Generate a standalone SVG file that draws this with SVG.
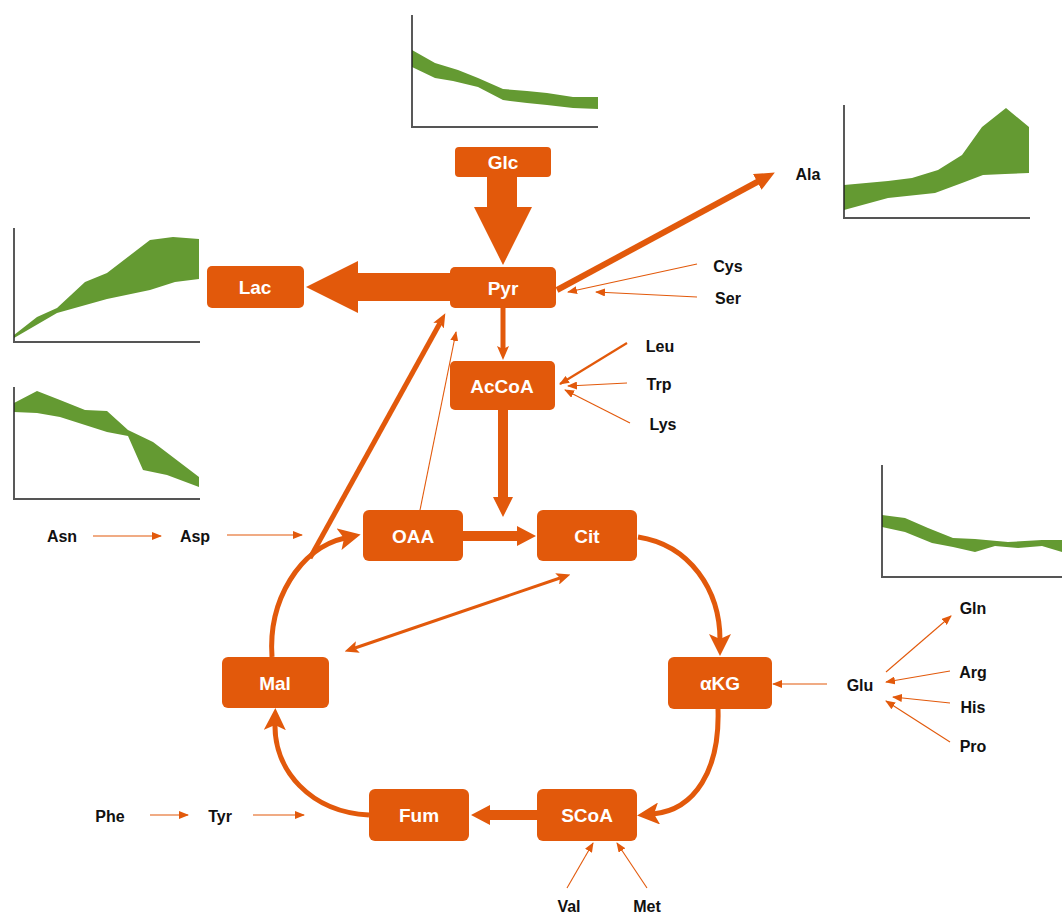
<svg xmlns="http://www.w3.org/2000/svg" width="1062" height="913" viewBox="0 0 1062 913">
<style>
.node rect{fill:#E2590B}
.node text{fill:#fff;font-family:"Liberation Sans",Arial,sans-serif;font-weight:bold;font-size:19px;text-anchor:middle;dominant-baseline:central}
.lbl{fill:#111;font-family:"Liberation Sans",Arial,sans-serif;font-weight:bold;font-size:16px;text-anchor:middle;dominant-baseline:central}
.band{fill:#649A32}
.ax{stroke:#222;stroke-width:1.5;fill:none}
.axh{stroke:#555;stroke-width:2;fill:none}
.c path,.c line{fill:none;stroke:#E2590B}
.c polygon{fill:#E2590B}
.thin{stroke-width:1.1}
.th{marker-end:url(#hThin)}
</style>
<defs>
<marker id="hThin" viewBox="0 0 10 8" refX="9" refY="4" markerWidth="10" markerHeight="8" markerUnits="userSpaceOnUse" orient="auto"><path d="M0,0 L10,4 L0,8 z" fill="#E2590B"/></marker>
<marker id="hMed" viewBox="0 0 14 12" refX="3" refY="6" markerWidth="14" markerHeight="12" markerUnits="userSpaceOnUse" orient="auto-start-reverse"><path d="M0,0 L14,6 L0,12 L3,6 z" fill="#E2590B"/></marker>
<marker id="hThick" viewBox="0 0 20 18" refX="2" refY="9" markerWidth="20" markerHeight="18" markerUnits="userSpaceOnUse" orient="auto"><path d="M0,0 L20,9 L0,18 z" fill="#E2590B"/></marker>
<marker id="hCurve" viewBox="0 0 22 22" refX="6" refY="11" markerWidth="22" markerHeight="22" markerUnits="userSpaceOnUse" orient="auto"><path d="M0,0 L22,11 L0,22 L5,11 z" fill="#E2590B"/></marker>
</defs>

<g id="charts">
<g id="chart-glc">
<polygon class="band" points="412,50 435,63 458,70 478,78 503,89 527,91 547,93 573,97 598,97 598,109 573,108 547,105 527,103 503,100 478,87 453,81 435,78 412,67"/>
<path class="ax" d="M412,15 V127"/><path class="axh" d="M411,127 H598"/>
</g>
<g id="chart-ala">
<polygon class="band" points="844,185 888,181 912,178 938,170 962,155 982,127 1006,108 1029,127 1029,173 1005,174 983,175 962,183 935,193 888,198 844,210"/>
<path class="ax" d="M844,105 V218"/><path class="axh" d="M843,218 H1030"/>
</g>
<g id="chart-lac">
<polygon class="band" points="14,335 37,317 57,308 85,282 107,273 150,240 173,237 199,239 199,279 175,282 150,290 107,299 57,313 14,338"/>
<path class="ax" d="M14,228 V342"/><path class="axh" d="M13,342 H200"/>
</g>
<g id="chart-2">
<polygon class="band" points="14,403 37,391 60,400 85,410 107,411 128,430 153,442 199,477 199,487 167,475 143,470 128,436 107,432 60,417 37,413 14,412"/>
<path class="ax" d="M14,387 V499"/><path class="axh" d="M13,499 H200"/>
</g>
<g id="chart-glu">
<polygon class="band" points="882,515 905,518 928,528 953,538 975,539 1008,542 1042,540 1062,540 1062,552 1042,546 1018,548 995,546 975,552 953,547 932,543 905,532 882,527"/>
<path class="ax" d="M882,465 V577"/><path class="axh" d="M881,577 H1062"/>
</g>
</g>

<g id="connectors" class="c">
<polygon points="487,177 517,177 517,207 532,207 503,265 474,207 487,207"/>
<polygon points="450,273 358,273 358,261 306,287 358,313 358,301 450,301"/>
<line x1="557" y1="290" x2="759" y2="181" stroke-width="6" marker-end="url(#hThick)"/>
<line class="thin th" x1="697" y1="264" x2="568" y2="292"/>
<line class="thin th" x1="697" y1="297" x2="596" y2="292"/>
<line x1="627" y1="343" x2="560" y2="384" stroke-width="2.2" marker-end="url(#hThin)"/>
<line class="thin th" x1="627" y1="383" x2="568" y2="386"/>
<line class="thin th" x1="630" y1="423" x2="565" y2="390"/>
<line x1="503" y1="308" x2="503" y2="349" stroke-width="5" marker-end="url(#hMed)"/>
<polygon points="498,410 508,410 508,497 513,497 503,517 493,497 498,497"/>
<polygon points="463,531 517,531 517,526 536,536 517,546 517,541 463,541"/>
<polygon points="537,810 490,810 490,805 471,815 490,825 490,820 537,820"/>
<line x1="355" y1="648" x2="560" y2="578" stroke-width="3" marker-start="url(#hMed)" marker-end="url(#hMed)"/>
<line x1="310" y1="558" x2="440" y2="323" stroke-width="5" marker-end="url(#hMed)"/>
<line class="thin th" x1="420" y1="510" x2="456" y2="332"/>
<path d="M272,657 C268,600 300,548 345,538" stroke-width="5" marker-end="url(#hCurve)"/>
<path d="M638,537 C690,545 720,590 720,640" stroke-width="5" marker-end="url(#hCurve)"/>
<path d="M718,709 C720,770 695,810 653,814" stroke-width="5" marker-end="url(#hCurve)"/>
<path d="M369,815 C310,812 274,770 275,724" stroke-width="5" marker-end="url(#hCurve)"/>
<line class="thin th" x1="93" y1="536" x2="161" y2="536"/>
<line class="thin th" x1="227" y1="535" x2="302" y2="535"/>
<line class="thin th" x1="150" y1="815" x2="188" y2="815"/>
<line class="thin th" x1="253" y1="815" x2="304" y2="815"/>
<line class="thin th" x1="827" y1="684" x2="773" y2="684"/>
<line class="thin th" x1="886" y1="672" x2="951" y2="616"/>
<line class="thin th" x1="950" y1="671" x2="886" y2="682"/>
<line class="thin th" x1="950" y1="703" x2="893" y2="697"/>
<line class="thin th" x1="950" y1="742" x2="886" y2="701"/>
<line class="thin th" x1="567" y1="888" x2="593" y2="843"/>
<line class="thin th" x1="647" y1="888" x2="617" y2="843"/>
</g>

<g id="node-glc" class="node"><rect x="455" y="147" width="96" height="30" rx="4"/><text x="503" y="162">Glc</text></g>
<g id="node-pyr" class="node"><rect x="450" y="267" width="106" height="41" rx="5"/><text x="503" y="288">Pyr</text></g>
<g id="node-lac" class="node"><rect x="207" y="266" width="97" height="42" rx="5"/><text x="255" y="287">Lac</text></g>
<g id="node-accoa" class="node"><rect x="450" y="361" width="105" height="49" rx="5"/><text x="502" y="386">AcCoA</text></g>
<g id="node-oaa" class="node"><rect x="363" y="510" width="100" height="51" rx="6"/><text x="413" y="536">OAA</text></g>
<g id="node-cit" class="node"><rect x="537" y="510" width="100" height="51" rx="6"/><text x="587" y="536">Cit</text></g>
<g id="node-mal" class="node"><rect x="222" y="657" width="107" height="51" rx="6"/><text x="275" y="683">Mal</text></g>
<g id="node-akg" class="node"><rect x="668" y="657" width="104" height="52" rx="6"/><text x="720" y="683">αKG</text></g>
<g id="node-fum" class="node"><rect x="369" y="789" width="100" height="52" rx="6"/><text x="419" y="815">Fum</text></g>
<g id="node-scoa" class="node"><rect x="537" y="789" width="100" height="52" rx="6"/><text x="587" y="815">SCoA</text></g>

<g id="labels">
<text class="lbl" x="808" y="174">Ala</text>
<text class="lbl" x="728" y="266">Cys</text>
<text class="lbl" x="728" y="298">Ser</text>
<text class="lbl" x="660" y="346">Leu</text>
<text class="lbl" x="659" y="384">Trp</text>
<text class="lbl" x="663" y="424">Lys</text>
<text class="lbl" x="62" y="536">Asn</text>
<text class="lbl" x="195" y="536">Asp</text>
<text class="lbl" x="973" y="608">Gln</text>
<text class="lbl" x="973" y="672">Arg</text>
<text class="lbl" x="860" y="685">Glu</text>
<text class="lbl" x="973" y="707">His</text>
<text class="lbl" x="973" y="746">Pro</text>
<text class="lbl" x="110" y="816">Phe</text>
<text class="lbl" x="220" y="816">Tyr</text>
<text class="lbl" x="569" y="906">Val</text>
<text class="lbl" x="647" y="906">Met</text>
</g>
</svg>
